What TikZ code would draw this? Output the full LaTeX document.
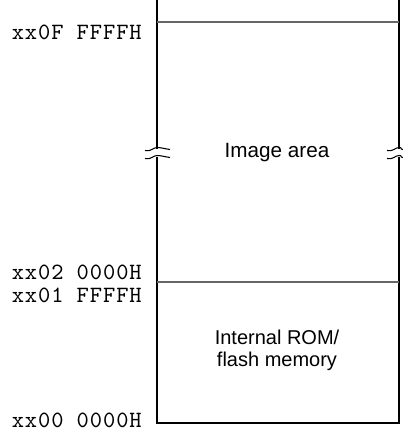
\documentclass[tikz,border=0pt]{standalone}
\usepackage{fontspec}
\setmainfont{Liberation Sans}
\newfontfamily\addrfont[LetterSpace=4]{lmmono10-regular.otf}
\usetikzlibrary{calc}

\begin{document}
\begin{tikzpicture}[
    x=0.75pt, y=-0.75pt, % one unit = one pixel of the reference
    wall/.style={line width=1.6pt, black}, % Style for the area outline
    divider/.style={line width=0.8pt, black!60}, % Style for area borders
    addr/.style={anchor=base east, inner sep=0pt, font=\addrfont\fontsize{17.5}{19}\selectfont}, % Address labels
    area/.style={align=center, inner sep=0pt, font=\fontsize{15}{16.5}\selectfont}, % Area names
    wave/.style={line width=0.8pt} % Break marks
]
\useasboundingbox (0,0) rectangle (403,432);

% Corners of the memory map
\coordinate (tl) at (157,0);
\coordinate (tr) at (399,0);
\coordinate (bl) at (157,423);
\coordinate (br) at (399,423);

% Outline, broken at the cut
\draw[wall] (tl) -- ($(tl)+(0,149)$);
\draw[wall] ($(tl)+(0,157)$) -- (bl) -- (br) -- ($(tr)+(0,157)$);
\draw[wall] ($(tr)+(0,149)$) -- (tr);

% Area borders
\draw[divider] ($(tl)+(0,22)$) -- ($(tr)+(0,22)$);
\draw[divider] ($(tl)+(0,282)$) -- ($(tr)+(0,282)$);

% Break marks on both sides
\foreach \bx/\lx/\rx in {157/12/13, 399/12/4} {
  \foreach \by in {149, 157} {
    \draw[wave] (\bx-\lx,\by+1.5) .. controls (\bx-6,\by+3) and (\bx-4,\by-1.5) .. (\bx,\by-1.5)
      .. controls (\bx+4,\by-1.5) and (\bx+\rx-4,\by) .. (\bx+\rx,\by+0.5);
  }
}

% Area names
\node[area, font=\fontsize{15.5}{17}\selectfont] (image) at (277,153) {Image area};
\node[area] (rom) at (277,350) {Internal ROM/\\flash memory};

% Addresses
\node[addr] (a0F) at (142,39) {xx0F FFFFH};
\node[addr] (a02) at (142,279) {xx02 0000H};
\node[addr] (a01) at (142,302) {xx01 FFFFH};
\node[addr] (a00) at (142,427) {xx00 0000H};

\end{tikzpicture}
\end{document}
